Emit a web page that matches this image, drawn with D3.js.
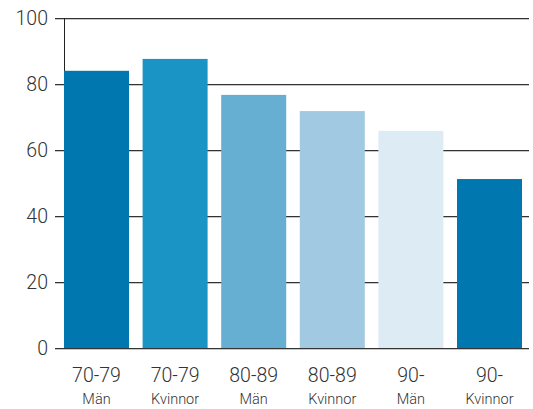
<!DOCTYPE html>
<html><head><meta charset="utf-8">
<script src="https://cdn.jsdelivr.net/npm/d3@7"></script>
<style>body{margin:0;background:#fff}svg{display:block}</style>
</head><body>
<script>
const categories = ["70-79", "70-79", "80-89", "80-89", "90-", "90-"];
const subLabels = ["Män", "Kvinnor", "Män", "Kvinnor", "Män", "Kvinnor"];
const values = [84, 87.6, 76.7, 71.8, 65.8, 51.2];
const colors = ["#0077ae", "#1a94c4", "#66aed2", "#a2c9e2", "#ddebf5", "#0077ae"];
const yTicks = [0, 20, 40, 60, 80, 100];

const W = 533, H = 409;
const svg = d3.select("body").append("svg").attr("width", W).attr("height", H);
const x = d3.scaleBand().domain(d3.range(categories.length)).range([64, 522]).paddingInner(0.173).paddingOuter(0);
const y = d3.scaleLinear().domain([0, 100]).range([348, 18]);
const font = "Roboto, Liberation Sans, Arial, sans-serif";

// gridlines
const g = svg.append("g");
yTicks.forEach(t => {
  const yy = Math.round(y(t));
  g.append("line").attr("x1", 55).attr("x2", 529).attr("y1", yy + 1.5).attr("y2", yy + 1.5).attr("stroke", "#c8c8c8").attr("stroke-width", 1);
  g.append("line").attr("x1", 55).attr("x2", 529).attr("y1", yy + 0.5).attr("y2", yy + 0.5).attr("stroke", "#333").attr("stroke-width", 1);
  g.append("text").attr("x", 48).attr("y", yy).attr("dy", "0.36em").attr("text-anchor", "end")
    .attr("font-family", font).attr("font-weight", 300).attr("font-size", 19.5).attr("fill", "#333").text(t);
});
// vertical axis
svg.append("line").attr("x1", 64.5).attr("x2", 64.5).attr("y1", y(100)).attr("y2", y(0)).attr("stroke", "#222").attr("stroke-width", 1);

// bars
svg.append("g").selectAll("rect").data(values).join("rect")
  .attr("x", (d, i) => x(i)).attr("width", x.bandwidth())
  .attr("y", d => y(d)).attr("height", d => y(0) - y(d))
  .attr("fill", (d, i) => colors[i]);

// category labels
const lab = svg.append("g");
categories.forEach((c, i) => {
  const cx = x(i) + x.bandwidth() / 2;
  lab.append("text").attr("x", cx).attr("y", 382).attr("text-anchor", "middle")
    .attr("font-family", font).attr("font-weight", 300).attr("font-size", 19.5).attr("fill", "#333").text(c);
  lab.append("text").attr("x", cx).attr("y", 404).attr("text-anchor", "middle")
    .attr("font-family", font).attr("font-weight", 300).attr("font-size", 14.5).attr("fill", "#333").text(subLabels[i]);
});
</script>
</body></html>
